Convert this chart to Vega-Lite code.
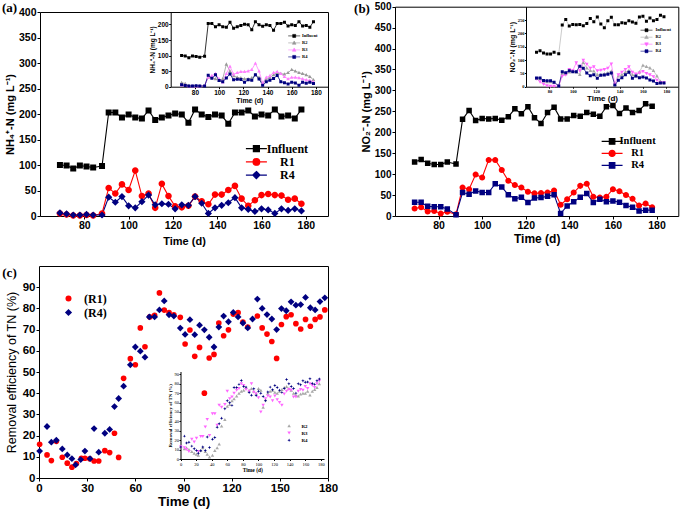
{
"$schema":"https://vega.github.io/schema/vega-lite/v6.json",
"width":685,"height":512,"autosize":"none","padding":0,"background":"white",
"config":{"view":{"stroke":null},
"axis":{"grid":false,"domainColor":"#000","domainWidth":1,"tickColor":"#000","tickWidth":1,"labelColor":"#000","titleColor":"#000","labelFont":"Liberation Sans","titleFont":"Liberation Sans","labelFontWeight":"bold","titleFontWeight":"bold","labelFlush":false,"labelOverlap":false,"labelBound":false},
"legend":{"padding":0,"labelColor":"#000","symbolOpacity":1}},
"datasets":{
"A":[
{"d":69,"s":"Influent","v":100},{"d":72,"s":"Influent","v":99},{"d":75,"s":"Influent","v":93},{"d":78,"s":"Influent","v":99},{"d":81,"s":"Influent","v":97},{"d":84,"s":"Influent","v":95},{"d":88,"s":"Influent","v":98},{"d":91,"s":"Influent","v":203},{"d":94,"s":"Influent","v":203},{"d":97,"s":"Influent","v":193},{"d":100,"s":"Influent","v":199},{"d":103,"s":"Influent","v":193},{"d":106,"s":"Influent","v":191},{"d":109,"s":"Influent","v":207},{"d":112,"s":"Influent","v":188},{"d":115,"s":"Influent","v":193},{"d":118,"s":"Influent","v":197},{"d":121,"s":"Influent","v":201},{"d":124,"s":"Influent","v":199},{"d":127,"s":"Influent","v":183},{"d":130,"s":"Influent","v":209},{"d":133,"s":"Influent","v":199},{"d":136,"s":"Influent","v":194},{"d":139,"s":"Influent","v":199},{"d":142,"s":"Influent","v":197},{"d":145,"s":"Influent","v":181},{"d":148,"s":"Influent","v":203},{"d":151,"s":"Influent","v":203},{"d":154,"s":"Influent","v":207},{"d":157,"s":"Influent","v":195},{"d":160,"s":"Influent","v":199},{"d":163,"s":"Influent","v":197},{"d":166,"s":"Influent","v":209},{"d":169,"s":"Influent","v":195},{"d":172,"s":"Influent","v":197},{"d":175,"s":"Influent","v":191},{"d":178,"s":"Influent","v":209},
{"d":69,"s":"R1","v":5},{"d":72,"s":"R1","v":3},{"d":75,"s":"R1","v":1},{"d":78,"s":"R1","v":1},{"d":81,"s":"R1","v":2},{"d":84,"s":"R1","v":1},{"d":88,"s":"R1","v":5},{"d":91,"s":"R1","v":55},{"d":94,"s":"R1","v":44},{"d":97,"s":"R1","v":62},{"d":100,"s":"R1","v":51},{"d":103,"s":"R1","v":89},{"d":106,"s":"R1","v":39},{"d":109,"s":"R1","v":44},{"d":112,"s":"R1","v":16},{"d":115,"s":"R1","v":63},{"d":118,"s":"R1","v":39},{"d":121,"s":"R1","v":19},{"d":124,"s":"R1","v":17},{"d":127,"s":"R1","v":20},{"d":130,"s":"R1","v":38},{"d":133,"s":"R1","v":29},{"d":136,"s":"R1","v":23},{"d":139,"s":"R1","v":42},{"d":142,"s":"R1","v":42},{"d":145,"s":"R1","v":51},{"d":148,"s":"R1","v":59},{"d":151,"s":"R1","v":34},{"d":154,"s":"R1","v":20},{"d":157,"s":"R1","v":31},{"d":160,"s":"R1","v":41},{"d":163,"s":"R1","v":43},{"d":166,"s":"R1","v":41},{"d":169,"s":"R1","v":40},{"d":172,"s":"R1","v":32},{"d":175,"s":"R1","v":34},{"d":178,"s":"R1","v":24},
{"d":69,"s":"R2","v":13},{"d":72,"s":"R2","v":10},{"d":75,"s":"R2","v":3},{"d":78,"s":"R2","v":2},{"d":81,"s":"R2","v":2},{"d":84,"s":"R2","v":2},{"d":88,"s":"R2","v":3},{"d":91,"s":"R2","v":30},{"d":94,"s":"R2","v":30},{"d":97,"s":"R2","v":25},{"d":100,"s":"R2","v":20},{"d":103,"s":"R2","v":25},{"d":106,"s":"R2","v":72},{"d":109,"s":"R2","v":50},{"d":112,"s":"R2","v":35},{"d":115,"s":"R2","v":30},{"d":118,"s":"R2","v":28},{"d":121,"s":"R2","v":25},{"d":124,"s":"R2","v":25},{"d":127,"s":"R2","v":28},{"d":130,"s":"R2","v":38},{"d":133,"s":"R2","v":30},{"d":136,"s":"R2","v":10},{"d":139,"s":"R2","v":25},{"d":142,"s":"R2","v":30},{"d":145,"s":"R2","v":38},{"d":148,"s":"R2","v":45},{"d":151,"s":"R2","v":42},{"d":154,"s":"R2","v":40},{"d":157,"s":"R2","v":45},{"d":160,"s":"R2","v":55},{"d":163,"s":"R2","v":50},{"d":166,"s":"R2","v":45},{"d":169,"s":"R2","v":42},{"d":172,"s":"R2","v":38},{"d":175,"s":"R2","v":32},{"d":178,"s":"R2","v":22},
{"d":69,"s":"R3","v":5},{"d":72,"s":"R3","v":5},{"d":75,"s":"R3","v":2},{"d":78,"s":"R3","v":2},{"d":81,"s":"R3","v":2},{"d":84,"s":"R3","v":2},{"d":88,"s":"R3","v":3},{"d":91,"s":"R3","v":30},{"d":94,"s":"R3","v":35},{"d":97,"s":"R3","v":42},{"d":100,"s":"R3","v":25},{"d":103,"s":"R3","v":15},{"d":106,"s":"R3","v":42},{"d":109,"s":"R3","v":65},{"d":112,"s":"R3","v":40},{"d":115,"s":"R3","v":45},{"d":118,"s":"R3","v":48},{"d":121,"s":"R3","v":48},{"d":124,"s":"R3","v":50},{"d":127,"s":"R3","v":55},{"d":130,"s":"R3","v":75},{"d":133,"s":"R3","v":50},{"d":136,"s":"R3","v":12},{"d":139,"s":"R3","v":30},{"d":142,"s":"R3","v":35},{"d":145,"s":"R3","v":45},{"d":148,"s":"R3","v":48},{"d":151,"s":"R3","v":42},{"d":154,"s":"R3","v":32},{"d":157,"s":"R3","v":25},{"d":160,"s":"R3","v":30},{"d":163,"s":"R3","v":30},{"d":166,"s":"R3","v":28},{"d":169,"s":"R3","v":25},{"d":172,"s":"R3","v":22},{"d":175,"s":"R3","v":20},{"d":178,"s":"R3","v":15},
{"d":69,"s":"R4","v":6},{"d":72,"s":"R4","v":4},{"d":75,"s":"R4","v":2},{"d":78,"s":"R4","v":2},{"d":81,"s":"R4","v":3},{"d":84,"s":"R4","v":2},{"d":88,"s":"R4","v":2},{"d":91,"s":"R4","v":37},{"d":94,"s":"R4","v":27},{"d":97,"s":"R4","v":38},{"d":100,"s":"R4","v":20},{"d":103,"s":"R4","v":16},{"d":106,"s":"R4","v":28},{"d":109,"s":"R4","v":41},{"d":112,"s":"R4","v":22},{"d":115,"s":"R4","v":24},{"d":118,"s":"R4","v":23},{"d":121,"s":"R4","v":14},{"d":124,"s":"R4","v":22},{"d":127,"s":"R4","v":21},{"d":130,"s":"R4","v":38},{"d":133,"s":"R4","v":25},{"d":136,"s":"R4","v":5},{"d":139,"s":"R4","v":16},{"d":142,"s":"R4","v":21},{"d":145,"s":"R4","v":26},{"d":148,"s":"R4","v":36},{"d":151,"s":"R4","v":16},{"d":154,"s":"R4","v":13},{"d":157,"s":"R4","v":9},{"d":160,"s":"R4","v":14},{"d":163,"s":"R4","v":12},{"d":166,"s":"R4","v":5},{"d":169,"s":"R4","v":14},{"d":172,"s":"R4","v":11},{"d":175,"s":"R4","v":14},{"d":178,"s":"R4","v":10}
],
"B":[
{"d":69,"s":"Influent","v":129},{"d":72,"s":"Influent","v":135},{"d":75,"s":"Influent","v":126},{"d":78,"s":"Influent","v":123},{"d":81,"s":"Influent","v":123},{"d":84,"s":"Influent","v":129},{"d":88,"s":"Influent","v":124},{"d":91,"s":"Influent","v":231},{"d":94,"s":"Influent","v":252},{"d":97,"s":"Influent","v":228},{"d":100,"s":"Influent","v":233},{"d":103,"s":"Influent","v":232},{"d":106,"s":"Influent","v":233},{"d":109,"s":"Influent","v":229},{"d":112,"s":"Influent","v":237},{"d":115,"s":"Influent","v":256},{"d":118,"s":"Influent","v":244},{"d":121,"s":"Influent","v":261},{"d":124,"s":"Influent","v":235},{"d":127,"s":"Influent","v":221},{"d":130,"s":"Influent","v":247},{"d":133,"s":"Influent","v":260},{"d":136,"s":"Influent","v":232},{"d":139,"s":"Influent","v":232},{"d":142,"s":"Influent","v":240},{"d":145,"s":"Influent","v":238},{"d":148,"s":"Influent","v":247},{"d":151,"s":"Influent","v":243},{"d":154,"s":"Influent","v":238},{"d":157,"s":"Influent","v":261},{"d":160,"s":"Influent","v":264},{"d":163,"s":"Influent","v":245},{"d":166,"s":"Influent","v":258},{"d":169,"s":"Influent","v":247},{"d":172,"s":"Influent","v":252},{"d":175,"s":"Influent","v":268},{"d":178,"s":"Influent","v":262},
{"d":69,"s":"R1","v":18},{"d":72,"s":"R1","v":21},{"d":75,"s":"R1","v":11},{"d":78,"s":"R1","v":12},{"d":81,"s":"R1","v":6},{"d":84,"s":"R1","v":10},{"d":88,"s":"R1","v":4},{"d":91,"s":"R1","v":68},{"d":94,"s":"R1","v":64},{"d":97,"s":"R1","v":99},{"d":100,"s":"R1","v":92},{"d":103,"s":"R1","v":134},{"d":106,"s":"R1","v":134},{"d":109,"s":"R1","v":110},{"d":112,"s":"R1","v":84},{"d":115,"s":"R1","v":74},{"d":118,"s":"R1","v":68},{"d":121,"s":"R1","v":58},{"d":124,"s":"R1","v":54},{"d":127,"s":"R1","v":55},{"d":130,"s":"R1","v":56},{"d":133,"s":"R1","v":61},{"d":136,"s":"R1","v":27},{"d":139,"s":"R1","v":40},{"d":142,"s":"R1","v":56},{"d":145,"s":"R1","v":72},{"d":148,"s":"R1","v":77},{"d":151,"s":"R1","v":46},{"d":154,"s":"R1","v":44},{"d":157,"s":"R1","v":46},{"d":160,"s":"R1","v":64},{"d":163,"s":"R1","v":59},{"d":166,"s":"R1","v":50},{"d":169,"s":"R1","v":41},{"d":172,"s":"R1","v":25},{"d":175,"s":"R1","v":30},{"d":178,"s":"R1","v":21},
{"d":69,"s":"R2","v":30},{"d":72,"s":"R2","v":28},{"d":75,"s":"R2","v":20},{"d":78,"s":"R2","v":18},{"d":81,"s":"R2","v":18},{"d":84,"s":"R2","v":15},{"d":88,"s":"R2","v":3},{"d":91,"s":"R2","v":50},{"d":94,"s":"R2","v":48},{"d":97,"s":"R2","v":55},{"d":100,"s":"R2","v":58},{"d":103,"s":"R2","v":55},{"d":106,"s":"R2","v":45},{"d":109,"s":"R2","v":90},{"d":112,"s":"R2","v":70},{"d":115,"s":"R2","v":60},{"d":118,"s":"R2","v":58},{"d":121,"s":"R2","v":45},{"d":124,"s":"R2","v":45},{"d":127,"s":"R2","v":48},{"d":130,"s":"R2","v":52},{"d":133,"s":"R2","v":58},{"d":136,"s":"R2","v":8},{"d":139,"s":"R2","v":40},{"d":142,"s":"R2","v":45},{"d":145,"s":"R2","v":55},{"d":148,"s":"R2","v":60},{"d":151,"s":"R2","v":45},{"d":154,"s":"R2","v":40},{"d":157,"s":"R2","v":55},{"d":160,"s":"R2","v":80},{"d":163,"s":"R2","v":75},{"d":166,"s":"R2","v":70},{"d":169,"s":"R2","v":60},{"d":172,"s":"R2","v":40},{"d":175,"s":"R2","v":20},{"d":178,"s":"R2","v":15},
{"d":69,"s":"R3","v":30},{"d":72,"s":"R3","v":18},{"d":75,"s":"R3","v":10},{"d":78,"s":"R3","v":4},{"d":81,"s":"R3","v":2},{"d":84,"s":"R3","v":2},{"d":88,"s":"R3","v":2},{"d":91,"s":"R3","v":40},{"d":94,"s":"R3","v":45},{"d":97,"s":"R3","v":65},{"d":100,"s":"R3","v":60},{"d":103,"s":"R3","v":90},{"d":106,"s":"R3","v":60},{"d":109,"s":"R3","v":100},{"d":112,"s":"R3","v":85},{"d":115,"s":"R3","v":70},{"d":118,"s":"R3","v":75},{"d":121,"s":"R3","v":60},{"d":124,"s":"R3","v":62},{"d":127,"s":"R3","v":65},{"d":130,"s":"R3","v":70},{"d":133,"s":"R3","v":86},{"d":136,"s":"R3","v":10},{"d":139,"s":"R3","v":45},{"d":142,"s":"R3","v":55},{"d":145,"s":"R3","v":65},{"d":148,"s":"R3","v":75},{"d":151,"s":"R3","v":55},{"d":154,"s":"R3","v":48},{"d":157,"s":"R3","v":52},{"d":160,"s":"R3","v":58},{"d":163,"s":"R3","v":50},{"d":166,"s":"R3","v":45},{"d":169,"s":"R3","v":38},{"d":172,"s":"R3","v":25},{"d":175,"s":"R3","v":15},{"d":178,"s":"R3","v":15},
{"d":69,"s":"R4","v":33},{"d":72,"s":"R4","v":33},{"d":75,"s":"R4","v":23},{"d":78,"s":"R4","v":22},{"d":81,"s":"R4","v":22},{"d":84,"s":"R4","v":17},{"d":88,"s":"R4","v":3},{"d":91,"s":"R4","v":56},{"d":94,"s":"R4","v":52},{"d":97,"s":"R4","v":60},{"d":100,"s":"R4","v":56},{"d":103,"s":"R4","v":56},{"d":106,"s":"R4","v":77},{"d":109,"s":"R4","v":69},{"d":112,"s":"R4","v":51},{"d":115,"s":"R4","v":41},{"d":118,"s":"R4","v":45},{"d":121,"s":"R4","v":32},{"d":124,"s":"R4","v":43},{"d":127,"s":"R4","v":44},{"d":130,"s":"R4","v":47},{"d":133,"s":"R4","v":51},{"d":136,"s":"R4","v":6},{"d":139,"s":"R4","v":24},{"d":142,"s":"R4","v":34},{"d":145,"s":"R4","v":45},{"d":148,"s":"R4","v":54},{"d":151,"s":"R4","v":32},{"d":154,"s":"R4","v":40},{"d":157,"s":"R4","v":34},{"d":160,"s":"R4","v":36},{"d":163,"s":"R4","v":33},{"d":166,"s":"R4","v":25},{"d":169,"s":"R4","v":21},{"d":172,"s":"R4","v":12},{"d":175,"s":"R4","v":14},{"d":178,"s":"R4","v":14}
],
"C":[
{"d":0.4,"s":"R1","v":15.9},{"d":5,"s":"R1","v":10.9},{"d":7.7,"s":"R1","v":8.2},{"d":10.8,"s":"R1","v":17.3},{"d":14.5,"s":"R1","v":9.8},{"d":17.6,"s":"R1","v":7},{"d":20.5,"s":"R1","v":5.1},{"d":23.3,"s":"R1","v":6.8},{"d":26.4,"s":"R1","v":9.3},{"d":28.6,"s":"R1","v":9.3},{"d":31.6,"s":"R1","v":9.1},{"d":34.3,"s":"R1","v":8},{"d":37.2,"s":"R1","v":8},{"d":41,"s":"R1","v":12.9},{"d":44,"s":"R1","v":12},{"d":47,"s":"R1","v":21.1},{"d":49.6,"s":"R1","v":9.7},{"d":52.7,"s":"R1","v":47},{"d":56.9,"s":"R1","v":56.3},{"d":60,"s":"R1","v":53.4},{"d":63.1,"s":"R1","v":70.8},{"d":66,"s":"R1","v":61.9},{"d":69,"s":"R1","v":76},{"d":72,"s":"R1","v":76.7},{"d":75,"s":"R1","v":87.3},{"d":78,"s":"R1","v":79.2},{"d":81,"s":"R1","v":78},{"d":84,"s":"R1","v":77},{"d":88,"s":"R1","v":75.8},{"d":91,"s":"R1","v":63.2},{"d":94,"s":"R1","v":69.8},{"d":97,"s":"R1","v":57.4},{"d":100,"s":"R1","v":61.6},{"d":103,"s":"R1","v":40},{"d":106,"s":"R1","v":56.6},{"d":109,"s":"R1","v":58.3},{"d":112,"s":"R1","v":73.1},{"d":115,"s":"R1","v":67.1},{"d":118,"s":"R1","v":69.9},{"d":121,"s":"R1","v":77.3},{"d":124,"s":"R1","v":78},{"d":127,"s":"R1","v":73.6},{"d":130,"s":"R1","v":71.2},{"d":136,"s":"R1","v":76.4},{"d":139,"s":"R1","v":70.8},{"d":142,"s":"R1","v":67.9},{"d":145,"s":"R1","v":64.4},{"d":148,"s":"R1","v":56.4},{"d":151,"s":"R1","v":72.4},{"d":154,"s":"R1","v":76.1},{"d":157,"s":"R1","v":77},{"d":160,"s":"R1","v":72.8},{"d":163,"s":"R1","v":70.3},{"d":166,"s":"R1","v":74.8},{"d":169,"s":"R1","v":71.6},{"d":172,"s":"R1","v":74.8},{"d":175,"s":"R1","v":76},{"d":178,"s":"R1","v":79.3},
{"d":0.4,"s":"R2","v":13},{"d":5,"s":"R2","v":11},{"d":7.7,"s":"R2","v":12},{"d":10.8,"s":"R2","v":10},{"d":14.5,"s":"R2","v":8},{"d":17.6,"s":"R2","v":6},{"d":20.5,"s":"R2","v":5},{"d":22.8,"s":"R2","v":4},{"d":26,"s":"R2","v":9},{"d":28.6,"s":"R2","v":12},{"d":31.8,"s":"R2","v":8},{"d":34.3,"s":"R2","v":5},{"d":37.2,"s":"R2","v":2},{"d":41,"s":"R2","v":4},{"d":44,"s":"R2","v":9},{"d":47,"s":"R2","v":12},{"d":49.6,"s":"R2","v":16},{"d":52.7,"s":"R2","v":35},{"d":56.9,"s":"R2","v":42},{"d":60,"s":"R2","v":56},{"d":63.1,"s":"R2","v":58},{"d":66,"s":"R2","v":62},{"d":68.7,"s":"R2","v":64},{"d":72,"s":"R2","v":67},{"d":75,"s":"R2","v":70},{"d":78,"s":"R2","v":72},{"d":81,"s":"R2","v":73},{"d":84,"s":"R2","v":76},{"d":88,"s":"R2","v":73},{"d":91,"s":"R2","v":75},{"d":94,"s":"R2","v":72},{"d":97,"s":"R2","v":70},{"d":100,"s":"R2","v":75},{"d":103,"s":"R2","v":73},{"d":106,"s":"R2","v":55},{"d":109,"s":"R2","v":63},{"d":112,"s":"R2","v":70},{"d":115,"s":"R2","v":72},{"d":118,"s":"R2","v":73},{"d":121,"s":"R2","v":71},{"d":124,"s":"R2","v":70},{"d":127,"s":"R2","v":72},{"d":130,"s":"R2","v":74},{"d":133,"s":"R2","v":76},{"d":136,"s":"R2","v":77},{"d":139,"s":"R2","v":75},{"d":142,"s":"R2","v":73},{"d":145,"s":"R2","v":70},{"d":148,"s":"R2","v":68},{"d":151,"s":"R2","v":67},{"d":154,"s":"R2","v":69},{"d":157,"s":"R2","v":70},{"d":160,"s":"R2","v":70},{"d":163,"s":"R2","v":72},{"d":166,"s":"R2","v":68},{"d":169,"s":"R2","v":72},{"d":172,"s":"R2","v":74},{"d":175,"s":"R2","v":76},{"d":178,"s":"R2","v":80},
{"d":0.4,"s":"R3","v":13},{"d":5,"s":"R3","v":12},{"d":7.7,"s":"R3","v":10},{"d":10.8,"s":"R3","v":8},{"d":14.5,"s":"R3","v":21},{"d":17.6,"s":"R3","v":18},{"d":20.5,"s":"R3","v":22},{"d":22.8,"s":"R3","v":8},{"d":26,"s":"R3","v":24},{"d":28.6,"s":"R3","v":24},{"d":31.8,"s":"R3","v":34},{"d":34.3,"s":"R3","v":42},{"d":37.2,"s":"R3","v":25},{"d":41,"s":"R3","v":48},{"d":44,"s":"R3","v":48},{"d":47,"s":"R3","v":36},{"d":49.6,"s":"R3","v":57},{"d":52.7,"s":"R3","v":55},{"d":56.9,"s":"R3","v":58},{"d":60,"s":"R3","v":72},{"d":63.1,"s":"R3","v":64},{"d":66,"s":"R3","v":66},{"d":68.7,"s":"R3","v":70},{"d":72,"s":"R3","v":73},{"d":75,"s":"R3","v":75},{"d":78,"s":"R3","v":80},{"d":81,"s":"R3","v":78},{"d":84,"s":"R3","v":74},{"d":88,"s":"R3","v":72},{"d":91,"s":"R3","v":80},{"d":94,"s":"R3","v":71},{"d":97,"s":"R3","v":69},{"d":100,"s":"R3","v":65},{"d":103,"s":"R3","v":50},{"d":106,"s":"R3","v":57},{"d":109,"s":"R3","v":64},{"d":112,"s":"R3","v":67},{"d":115,"s":"R3","v":66},{"d":118,"s":"R3","v":62},{"d":121,"s":"R3","v":67},{"d":124,"s":"R3","v":63},{"d":127,"s":"R3","v":60},{"d":130,"s":"R3","v":57},{"d":133,"s":"R3","v":69},{"d":136,"s":"R3","v":72},{"d":139,"s":"R3","v":74},{"d":142,"s":"R3","v":73},{"d":145,"s":"R3","v":66},{"d":148,"s":"R3","v":66},{"d":151,"s":"R3","v":72},{"d":154,"s":"R3","v":74},{"d":157,"s":"R3","v":73},{"d":160,"s":"R3","v":77},{"d":163,"s":"R3","v":75},{"d":166,"s":"R3","v":80},{"d":169,"s":"R3","v":78},{"d":172,"s":"R3","v":76},{"d":175,"s":"R3","v":80},{"d":178,"s":"R3","v":83},
{"d":0.4,"s":"R4","v":12.7},{"d":5,"s":"R4","v":24.3},{"d":7.7,"s":"R4","v":16.9},{"d":10.8,"s":"R4","v":17.8},{"d":14.5,"s":"R4","v":13.7},{"d":17.6,"s":"R4","v":10.9},{"d":20.5,"s":"R4","v":9.1},{"d":22.8,"s":"R4","v":6.2},{"d":26,"s":"R4","v":8.7},{"d":28.6,"s":"R4","v":12.7},{"d":31.8,"s":"R4","v":9.1},{"d":34.3,"s":"R4","v":23.3},{"d":37.2,"s":"R4","v":12.2},{"d":41,"s":"R4","v":21.1},{"d":44,"s":"R4","v":22.9},{"d":47,"s":"R4","v":33.7},{"d":49.6,"s":"R4","v":37.5},{"d":52.7,"s":"R4","v":43.3},{"d":56.9,"s":"R4","v":53.4},{"d":60,"s":"R4","v":61.8},{"d":63.1,"s":"R4","v":59.8},{"d":66,"s":"R4","v":57},{"d":68.7,"s":"R4","v":76},{"d":72,"s":"R4","v":76},{"d":75,"s":"R4","v":79.3},{"d":78,"s":"R4","v":83.5},{"d":81,"s":"R4","v":77},{"d":84,"s":"R4","v":76.4},{"d":88,"s":"R4","v":70.7},{"d":91,"s":"R4","v":67.7},{"d":94,"s":"R4","v":74.7},{"d":97,"s":"R4","v":67.6},{"d":100,"s":"R4","v":72.1},{"d":103,"s":"R4","v":69.9},{"d":106,"s":"R4","v":66.4},{"d":109,"s":"R4","v":61.8},{"d":112,"s":"R4","v":71.2},{"d":115,"s":"R4","v":76.4},{"d":118,"s":"R4","v":73.7},{"d":121,"s":"R4","v":78.1},{"d":124,"s":"R4","v":76},{"d":127,"s":"R4","v":73.1},{"d":130,"s":"R4","v":70.8},{"d":133,"s":"R4","v":75},{"d":136,"s":"R4","v":84.4},{"d":139,"s":"R4","v":80},{"d":142,"s":"R4","v":77.1},{"d":145,"s":"R4","v":75},{"d":148,"s":"R4","v":70},{"d":151,"s":"R4","v":79.9},{"d":154,"s":"R4","v":78.9},{"d":157,"s":"R4","v":83.1},{"d":160,"s":"R4","v":81.5},{"d":163,"s":"R4","v":81.8},{"d":166,"s":"R4","v":85.2},{"d":169,"s":"R4","v":80.3},{"d":172,"s":"R4","v":79.3},{"d":175,"s":"R4","v":83.2},{"d":178,"s":"R4","v":85}
]
},
"layer":[
{"data":{"name":"A"},"transform":[{"filter":{"field":"s","oneOf":["Influent","R1","R4"]}}],
 "layer":[
  {"mark":{"type":"line","strokeWidth":1.1},
   "encoding":{
    "x":{"field":"d","type":"quantitative","scale":{"domain":[65,180.5],"range":[40,328]},"axis":{"orient":"bottom","offset":-296,"values":[80,100,120,140,160,180],"title":"Time (d)","tickSize":3,"labelPadding":1,"labelFontSize":10.5,"titleFontSize":11,"titlePadding":5}},
    "y":{"field":"v","type":"quantitative","scale":{"domain":[0,400],"range":[216,12]},"axis":{"orient":"left","offset":-40,"values":[0,50,100,150,200,250,300,350,400],"title":"NH₄⁺-N (mg L⁻¹)","tickSize":3,"labelPadding":1,"labelFontSize":10.5,"titleFontSize":11,"titlePadding":3}},
    "color":{"field":"s","type":"nominal","scale":{"domain":["Influent","R1","R4"],"range":["#000000","#ff0000","#000080"]},"legend":null}}},
  {"mark":{"type":"point","filled":true,"opacity":1},
   "encoding":{
    "x":{"field":"d","type":"quantitative","axis":null},
    "y":{"field":"v","type":"quantitative","axis":null},
    "color":{"field":"s","type":"nominal","scale":{"domain":["Influent","R1","R4"],"range":["#000000","#ff0000","#000080"]},"legend":{"orient":"none","legendX":249.4,"legendY":141.7,"direction":"vertical","title":null,"labelFont":"Liberation Serif","labelFontWeight":"bold","labelFontSize":12,"labelAlign":"center","labelOffset":24,"symbolSize":144,"symbolStrokeWidth":1.2,"rowPadding":0.2,"padding":0}},
    "stroke":{"field":"s","type":"nominal","scale":{"domain":["Influent","R1","R4"],"range":["#000000","#ff0000","#000080"]},"legend":{"orient":"none","legendX":249.4,"legendY":141.7,"direction":"vertical","title":null,"labelFont":"Liberation Serif","labelFontWeight":"bold","labelFontSize":12,"labelAlign":"center","labelOffset":24,"symbolSize":144,"symbolStrokeWidth":1.2,"rowPadding":0.2,"padding":0}},
    "shape":{"field":"s","type":"nominal","scale":{"domain":["Influent","R1","R4"],"range":["M-1.75,0H1.75M-0.5,-0.5H0.5V0.5H-0.5Z","M-1.75,0H1.75M0.55,0A0.55,0.55,0,1,1,-0.55,0A0.55,0.55,0,1,1,0.55,0Z","M-1.75,0H1.75M0,-0.6L0.6,0L0,0.6L-0.6,0Z"]},"legend":{"orient":"none","legendX":249.4,"legendY":141.7,"direction":"vertical","title":null,"labelFont":"Liberation Serif","labelFontWeight":"bold","labelFontSize":12,"labelAlign":"center","labelOffset":24,"symbolSize":144,"symbolStrokeWidth":1.2,"rowPadding":0.2,"padding":0}},
    "size":{"value":144},"strokeWidth":{"value":0}}},
  {"mark":{"type":"point","opacity":0},
   "encoding":{
    "x":{"field":"d","type":"quantitative","axis":{"orient":"top","offset":-12,"labels":false,"ticks":false,"title":"(a)","titleX":9,"titleY":-4.5,"titleAngle":0,"titleAlign":"center","titleBaseline":"middle","titleFont":"Liberation Serif","titleFontSize":13}},
    "y":{"field":"v","type":"quantitative","axis":{"orient":"right","offset":-357,"labels":false,"ticks":false,"title":null}}}}
 ],
 "resolve":{"scale":{"color":"independent","stroke":"independent","shape":"independent"},"axis":{"x":"independent","y":"independent"}}
},
{"data":{"name":"A"},"transform":[{"filter":{"field":"s","oneOf":["Influent","R2","R3","R4"]}}],
 "layer":[
  {"mark":{"type":"line","strokeWidth":0.8},
   "encoding":{
    "x":{"field":"d","type":"quantitative","scale":{"domain":[66,187],"range":[170.7,328]},"axis":{"orient":"bottom","offset":-425.3,"values":[80,100,120,140,160,180],"title":"Time (d)","tickSize":2,"labelPadding":0.5,"labelFontSize":6.5,"titleFontSize":7,"titlePadding":1}},
    "y":{"field":"v","type":"quantitative","scale":{"domain":[0,224],"range":[86.7,12]},"axis":{"orient":"left","offset":-170.7,"values":[0,50,100,150,200],"title":"NH₄⁺-N (mg L⁻¹)","tickSize":2,"labelPadding":0.5,"labelFontSize":6.5,"titleFontSize":6.5,"titlePadding":2}},
    "color":{"field":"s","type":"nominal","scale":{"domain":["Influent","R2","R3","R4"],"range":["#000000","#999999","#ff80ff","#000080"]},"legend":null}}},
  {"mark":{"type":"point","filled":true,"opacity":1},
   "encoding":{
    "x":{"field":"d","type":"quantitative","axis":null},
    "y":{"field":"v","type":"quantitative","axis":null},
    "color":{"field":"s","type":"nominal","scale":{"domain":["Influent","R2","R3","R4"],"range":["#000000","#999999","#ff80ff","#000080"]},"legend":{"orient":"none","legendX":290.7,"legendY":32.4,"direction":"vertical","title":null,"labelFont":"Liberation Serif","labelFontWeight":"bold","labelFontSize":4.5,"labelOffset":4.4,"symbolSize":36,"symbolStrokeWidth":0.6,"rowPadding":-0.4,"padding":0}},
    "stroke":{"field":"s","type":"nominal","scale":{"domain":["Influent","R2","R3","R4"],"range":["#000000","#999999","#ff80ff","#000080"]},"legend":{"orient":"none","legendX":290.7,"legendY":32.4,"direction":"vertical","title":null,"labelFont":"Liberation Serif","labelFontWeight":"bold","labelFontSize":4.5,"labelOffset":4.4,"symbolSize":36,"symbolStrokeWidth":0.6,"rowPadding":-0.4,"padding":0}},
    "shape":{"field":"s","type":"nominal","scale":{"domain":["Influent","R2","R3","R4"],"range":["M-2,0H2M-0.5,-0.5H0.5V0.5H-0.5Z","M-2,0H2M0,-0.65L0.6,0.45H-0.6Z","M-2,0H2M0,-0.65L0.6,0.45H-0.6Z","M-2,0H2M-0.5,-0.5H0.5V0.5H-0.5Z"]},"legend":{"orient":"none","legendX":290.7,"legendY":32.4,"direction":"vertical","title":null,"labelFont":"Liberation Serif","labelFontWeight":"bold","labelFontSize":4.5,"labelOffset":4.4,"symbolSize":36,"symbolStrokeWidth":0.6,"rowPadding":-0.4,"padding":0}},
    "size":{"value":36},"strokeWidth":{"value":0}}}
 ],
 "resolve":{"scale":{"color":"independent","stroke":"independent","shape":"independent"},"axis":{"x":"independent","y":"independent"}}
},
{"data":{"name":"B"},"transform":[{"filter":{"field":"s","oneOf":["Influent","R1","R4"]}}],
 "layer":[
  {"mark":{"type":"line","strokeWidth":1.1},
   "encoding":{
    "x":{"field":"d","type":"quantitative","scale":{"domain":[68.1,181.2],"range":[395,678.3]},"axis":{"orient":"bottom","offset":-296,"values":[80,100,120,140,160,180],"title":"Time (d)","tickSize":3,"labelPadding":1,"labelFontSize":10.5,"titleFontSize":12,"titlePadding":3}},
    "y":{"field":"v","type":"quantitative","scale":{"domain":[0,500],"range":[216,6.7]},"axis":{"orient":"left","offset":-395,"values":[0,50,100,150,200,250,300,350,400,450,500],"title":"NO₂⁻-N (mg L⁻¹)","tickSize":3,"labelPadding":1,"labelFontSize":10,"titleFontSize":11,"titlePadding":3}},
    "color":{"field":"s","type":"nominal","scale":{"domain":["Influent","R1","R4"],"range":["#000000","#ff0000","#000080"]},"legend":null}}},
  {"mark":{"type":"point","filled":true,"opacity":1},
   "encoding":{
    "x":{"field":"d","type":"quantitative","axis":null},
    "y":{"field":"v","type":"quantitative","axis":null},
    "color":{"field":"s","type":"nominal","scale":{"domain":["Influent","R1","R4"],"range":["#000000","#ff0000","#000080"]},"legend":{"orient":"none","legendX":605.6,"legendY":134.9,"direction":"vertical","title":null,"labelFont":"Liberation Serif","labelFontWeight":"bold","labelFontSize":10.5,"labelAlign":"center","labelOffset":19,"symbolSize":121,"symbolStrokeWidth":1.2,"rowPadding":-0.7,"padding":0}},
    "stroke":{"field":"s","type":"nominal","scale":{"domain":["Influent","R1","R4"],"range":["#000000","#ff0000","#000080"]},"legend":{"orient":"none","legendX":605.6,"legendY":134.9,"direction":"vertical","title":null,"labelFont":"Liberation Serif","labelFontWeight":"bold","labelFontSize":10.5,"labelAlign":"center","labelOffset":19,"symbolSize":121,"symbolStrokeWidth":1.2,"rowPadding":-0.7,"padding":0}},
    "shape":{"field":"s","type":"nominal","scale":{"domain":["Influent","R1","R4"],"range":["M-1.9,0H1.9M-0.5,-0.5H0.5V0.5H-0.5Z","M-1.9,0H1.9M0.55,0A0.55,0.55,0,1,1,-0.55,0A0.55,0.55,0,1,1,0.55,0Z","M-1.9,0H1.9M-0.5,-0.5H0.5V0.5H-0.5Z"]},"legend":{"orient":"none","legendX":605.6,"legendY":134.9,"direction":"vertical","title":null,"labelFont":"Liberation Serif","labelFontWeight":"bold","labelFontSize":10.5,"labelAlign":"center","labelOffset":19,"symbolSize":121,"symbolStrokeWidth":1.2,"rowPadding":-0.7,"padding":0}},
    "size":{"value":121},"strokeWidth":{"value":0}}},
  {"mark":{"type":"point","opacity":0},
   "encoding":{
    "x":{"field":"d","type":"quantitative","axis":{"orient":"top","offset":-6.7,"labels":false,"ticks":false,"title":"(b)","titleX":361.5,"titleY":1.5,"titleAngle":0,"titleAlign":"center","titleBaseline":"middle","titleFont":"Liberation Serif","titleFontSize":13}},
    "y":{"field":"v","type":"quantitative","axis":{"orient":"right","offset":-6.7,"labels":false,"ticks":false,"title":null}}}}
 ],
 "resolve":{"scale":{"color":"independent","stroke":"independent","shape":"independent"},"axis":{"x":"independent","y":"independent"}}
},
{"data":{"name":"B"},"transform":[{"filter":{"field":"s","oneOf":["Influent","R2","R3","R4"]}}],
 "layer":[
  {"mark":{"type":"line","strokeWidth":0.7},
   "encoding":{
    "x":{"field":"d","type":"quantitative","scale":{"domain":[68.8,184.3],"range":[526,678]},"axis":{"orient":"bottom","offset":-425.3,"values":[80,100,120,140,160,180],"title":"Time (d)","tickSize":1.5,"labelPadding":0.5,"labelFont":"Liberation Serif","labelFontSize":4.5,"titleFontSize":8,"titlePadding":1}},
    "y":{"field":"v","type":"quantitative","scale":{"domain":[0,285.7],"range":[86.7,6.7]},"axis":{"orient":"left","offset":-526,"values":[0,50,100,150,200,250],"title":"NO₂⁻-N (mg L⁻¹)","tickSize":1.5,"labelPadding":0.5,"labelFont":"Liberation Serif","labelFontSize":4.5,"titleFontSize":7,"titlePadding":2}},
    "color":{"field":"s","type":"nominal","scale":{"domain":["Influent","R2","R3","R4"],"range":["#b5b5b5","#b5b5b5","#ff66ff","#000080"]},"legend":null}}},
  {"mark":{"type":"point","filled":true,"opacity":1},
   "encoding":{
    "x":{"field":"d","type":"quantitative","axis":null},
    "y":{"field":"v","type":"quantitative","axis":null},
    "color":{"field":"s","type":"nominal","scale":{"domain":["Influent","R2","R3","R4"],"range":["#000000","#a8a8a8","#ff66ff","#000080"]},"legend":{"orient":"none","legendX":643,"legendY":26.7,"direction":"vertical","title":null,"labelFont":"Liberation Serif","labelFontWeight":"bold","labelFontSize":4.5,"labelOffset":5.4,"symbolSize":36,"symbolStrokeWidth":0.6,"rowPadding":-0.7,"padding":0}},
    "stroke":{"field":"s","type":"nominal","scale":{"domain":["Influent","R2","R3","R4"],"range":["#000000","#a8a8a8","#ff66ff","#000080"]},"legend":{"orient":"none","legendX":643,"legendY":26.7,"direction":"vertical","title":null,"labelFont":"Liberation Serif","labelFontWeight":"bold","labelFontSize":4.5,"labelOffset":5.4,"symbolSize":36,"symbolStrokeWidth":0.6,"rowPadding":-0.7,"padding":0}},
    "shape":{"field":"s","type":"nominal","scale":{"domain":["Influent","R2","R3","R4"],"range":["M-2,0H2M-0.5,-0.5H0.5V0.5H-0.5Z","M-2,0H2M0,-0.65L0.6,0.45H-0.6Z","M-2,0H2M0,0.65L0.6,-0.45H-0.6Z","M-2,0H2M-0.5,-0.5H0.5V0.5H-0.5Z"]},"legend":{"orient":"none","legendX":643,"legendY":26.7,"direction":"vertical","title":null,"labelFont":"Liberation Serif","labelFontWeight":"bold","labelFontSize":4.5,"labelOffset":5.4,"symbolSize":36,"symbolStrokeWidth":0.6,"rowPadding":-0.7,"padding":0}},
    "size":{"value":36},"strokeWidth":{"value":0}}}
 ],
 "resolve":{"scale":{"color":"independent","stroke":"independent","shape":"independent"},"axis":{"x":"independent","y":"independent"}}
},
{"data":{"name":"C"},"transform":[{"filter":{"field":"s","oneOf":["R1","R4"]}}],
 "layer":[
  {"mark":{"type":"point","filled":true,"opacity":1},
   "encoding":{
    "x":{"field":"d","type":"quantitative","scale":{"domain":[0,180],"range":[39,328]},"axis":{"orient":"bottom","offset":-34,"values":[0,30,60,90,120,150,180],"title":"Time (d)","tickSize":3,"labelPadding":1,"labelFontSize":11.5,"titleFontSize":13.5,"titlePadding":1}},
    "y":{"field":"v","type":"quantitative","scale":{"domain":[0,92.2],"range":[478,266]},"axis":{"orient":"left","offset":-39,"values":[0,10,20,30,40,50,60,70,80,90],"title":"Removal efficiency of TN (%)","titleFontWeight":"normal","tickSize":3,"labelPadding":1,"labelFontSize":11.5,"titleFontSize":12.5,"titlePadding":4}},
    "color":{"field":"s","type":"nominal","scale":{"domain":["R1","R4"],"range":["#ff0000","#000080"]},"legend":{"orient":"none","legendX":62.5,"legendY":292.5,"direction":"vertical","title":null,"labelFont":"Liberation Serif","labelFontWeight":"bold","labelFontSize":12,"labelOffset":9.5,"symbolSize":36,"symbolStrokeWidth":0,"rowPadding":2,"padding":0,"labelExpr":"'(' + datum.label + ')'"}},
    "shape":{"field":"s","type":"nominal","scale":{"domain":["R1","R4"],"range":["circle","M0,-1.2L1.2,0L0,1.2L-1.2,0Z"]},"legend":{"orient":"none","legendX":62.5,"legendY":292.5,"direction":"vertical","title":null,"labelFont":"Liberation Serif","labelFontWeight":"bold","labelFontSize":12,"labelOffset":9.5,"symbolSize":36,"symbolStrokeWidth":0,"rowPadding":2,"padding":0,"labelExpr":"'(' + datum.label + ')'"}},
    "size":{"value":32}}},
  {"mark":{"type":"point","opacity":0},
   "encoding":{
    "x":{"field":"d","type":"quantitative","axis":{"orient":"top","offset":-266,"labels":false,"ticks":false,"title":"(c)","titleX":9,"titleY":6,"titleAngle":0,"titleAlign":"center","titleBaseline":"middle","titleFont":"Liberation Serif","titleFontSize":13}},
    "y":{"field":"v","type":"quantitative","axis":{"orient":"right","offset":-357,"labels":false,"ticks":false,"title":null}}}}
 ],
 "resolve":{"axis":{"x":"independent","y":"independent"}}
},
{"data":{"name":"C"},"transform":[{"filter":{"field":"s","oneOf":["R2","R3","R4"]}}],
 "mark":{"type":"point","filled":true,"opacity":1},
 "encoding":{
  "x":{"field":"d","type":"quantitative","scale":{"domain":[0,184],"range":[180.5,324]},"axis":{"orient":"bottom","offset":-53,"values":[0,20,40,60,80,100,120,140,160,180],"title":"Time (d)","tickSize":1.5,"labelPadding":0.5,"labelFont":"Liberation Serif","labelFontWeight":"normal","labelFontSize":4.5,"titleFont":"Liberation Serif","titleFontSize":5.5,"titlePadding":1.5}},
  "y":{"field":"v","type":"quantitative","scale":{"domain":[0,93],"range":[459,371.5]},"axis":{"orient":"left","offset":-180.5,"values":[0,10,20,30,40,50,60,70,80,90],"title":"Removal efficiency of TN (%)","tickSize":1.5,"labelPadding":0.5,"labelFont":"Liberation Serif","labelFontWeight":"normal","labelFontSize":4.5,"titleFont":"Liberation Serif","titleFontSize":5,"titlePadding":1.5}},
  "color":{"field":"s","type":"nominal","scale":{"domain":["R2","R3","R4"],"range":["#a8a8a8","#ff66ff","#000080"]},"legend":{"orient":"none","legendX":286.6,"legendY":423.3,"direction":"vertical","title":null,"labelFont":"Liberation Serif","labelFontWeight":"bold","labelFontSize":5,"labelOffset":9.9,"symbolSize":12,"symbolStrokeWidth":0,"rowPadding":1.2,"padding":0}},
  "shape":{"field":"s","type":"nominal","scale":{"domain":["R2","R3","R4"],"range":["triangle-up","triangle-down","M0,-1L0.28,-0.28L1,0L0.28,0.28L0,1L-0.28,0.28L-1,0L-0.28,-0.28Z"]},"legend":{"orient":"none","legendX":286.6,"legendY":423.3,"direction":"vertical","title":null,"labelFont":"Liberation Serif","labelFontWeight":"bold","labelFontSize":5,"labelOffset":9.9,"symbolSize":12,"symbolStrokeWidth":0,"rowPadding":1.2,"padding":0}},
  "size":{"value":12}}
}
],
"resolve":{"scale":{"x":"independent","y":"independent","color":"independent","stroke":"independent","shape":"independent"},"axis":{"x":"independent","y":"independent"}}
}
